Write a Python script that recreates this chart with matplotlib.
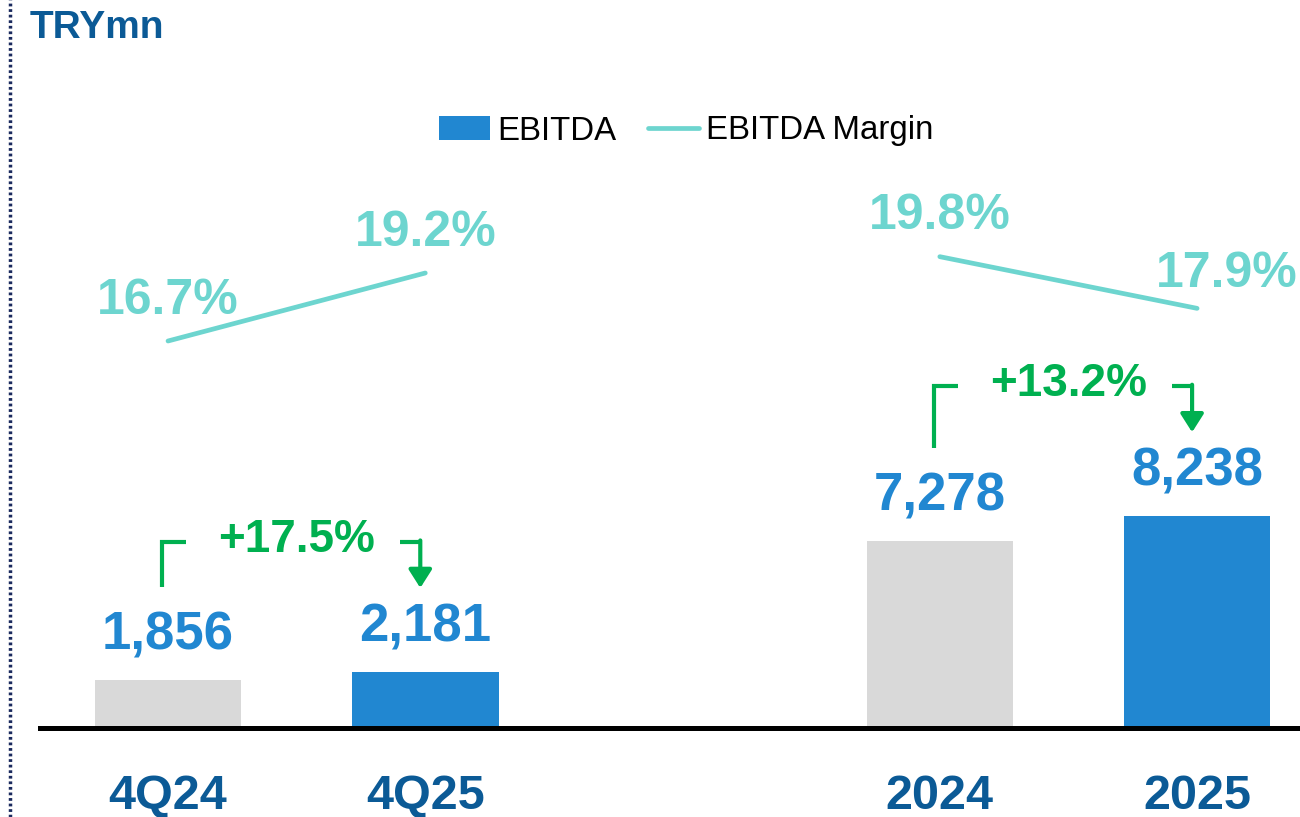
import numpy as np
import matplotlib
matplotlib.use('Agg')
import matplotlib.pyplot as plt
from matplotlib.lines import Line2D
from matplotlib.patches import Patch

plt.rcParams['font.family'] = ['Liberation Sans', 'DejaVu Sans']

# data
categories = ['4Q24', '4Q25', '2024', '2025']
ebitda = [1856, 2181, 7278, 8238]
margin = [16.7, 19.2, 19.8, 17.9]
growth_labels = ['+17.5%', '+13.2%']
pairs = [(0, 1), (2, 3)]

# colours
c_prev = '#D9D9D9'
c_cur = '#2187D1'
c_line = '#6DD5CF'
c_cat = '#0B5A96'
c_green = '#00B050'

fig = plt.figure(figsize=(13, 8.17), dpi=100)
ax = fig.add_axes([40 / 1300, 89 / 817, 1260 / 1300, 628 / 817])
ax2 = ax.twinx()

pos = np.array([0, 1, 3, 4])
ypx = 38.9           # data units per pixel (primary axis)
xpx = 1 / 257.25     # data units per pixel (x)

bar_colors = [c_prev, c_cur, c_prev, c_cur]
ax.bar(pos, ebitda, width=0.57, color=bar_colors, zorder=2)
ax.set_xlim(-0.4976, 4.4)
ax.set_ylim(0, 628 * ypx)
ax2.set_ylim(16.7 - 387 / 27.2, 16.7 + 241 / 27.2)

ax.axhline(0, color='black', lw=3.6, zorder=3, clip_on=False)
for a in (ax, ax2):
    for s in a.spines.values():
        s.set_visible(False)
    a.set_yticks([])

ax.set_xticks(pos)
ax.set_xticklabels(categories, fontsize=35, fontweight='bold', color=c_cat)
ax.tick_params(axis='x', length=0, pad=33)

# bar value labels
for p, v in zip(pos, ebitda):
    ax.annotate(f'{v:,}', (p, v), xytext=(0, 32), textcoords='offset points',
                ha='center', va='center', fontsize=38, fontweight='bold', color=c_cur)

# margin lines
for i, j in pairs:
    ax2.plot([pos[i], pos[j]], [margin[i], margin[j]], color=c_line, lw=3.4,
             solid_capstyle='round', zorder=3)
m_offsets = [(0, 29), (0, 29), (0, 29), (21, 25)]
for p, m, off in zip(pos, margin, m_offsets):
    ax2.annotate(f'{m:.1f}%', (p, m), xytext=off, textcoords='offset points',
                 ha='center', va='center', fontsize=36, fontweight='bold', color=c_line)

# growth brackets
for (i, j), lbl in zip(pairs, growth_labels):
    top = max(ebitda[i], ebitda[j]) + 130 * ypx
    lx = pos[i] - 6 * xpx
    rx = pos[j] - 5 * xpx
    ax.plot([lx, lx, lx + 24 * xpx], [ebitda[i] + 93 * ypx, top, top],
            color=c_green, lw=3, solid_capstyle='butt', solid_joinstyle='miter')
    ax.plot([rx - 20 * xpx, rx], [top, top], color=c_green, lw=3,
            solid_capstyle='butt')
    ax.annotate('', xy=(rx, ebitda[j] + 84 * ypx), xytext=(rx, top + 1.5 * ypx),
                arrowprops=dict(arrowstyle='-|>,head_length=0.55,head_width=0.35',
                                mutation_scale=20, color=c_green, lw=3,
                                shrinkA=0, shrinkB=0))
    ax.text((pos[i] + pos[j]) / 2, top + 2 * ypx, lbl, ha='center', va='center',
            fontsize=33, fontweight='bold', color=c_green)

# legend
handles = [Patch(facecolor=c_cur, edgecolor='none', label='EBITDA'),
           Line2D([0], [0], color=c_line, lw=3.4, solid_capstyle='round', label='EBITDA Margin')]
fig.legend(handles=handles, loc='center', bbox_to_anchor=(686 / 1300, 1 - 131 / 817),
           ncol=2, frameon=False, fontsize=23.8, handlelength=1.55, handletextpad=0.22,
           columnspacing=0.95)

fig.text(30 / 1300, 1 - 28 / 817, 'TRYmn', fontsize=28, fontweight='bold',
         color=c_cat, ha='left', va='center')

fig.add_artist(Line2D([10 / 1300, 10 / 1300], [0, 1], transform=fig.transFigure,
                      color='#1A2A5E', lw=2.5, linestyle=(0, (0.8, 0.8))))

fig.savefig('out.png', dpi=100)
